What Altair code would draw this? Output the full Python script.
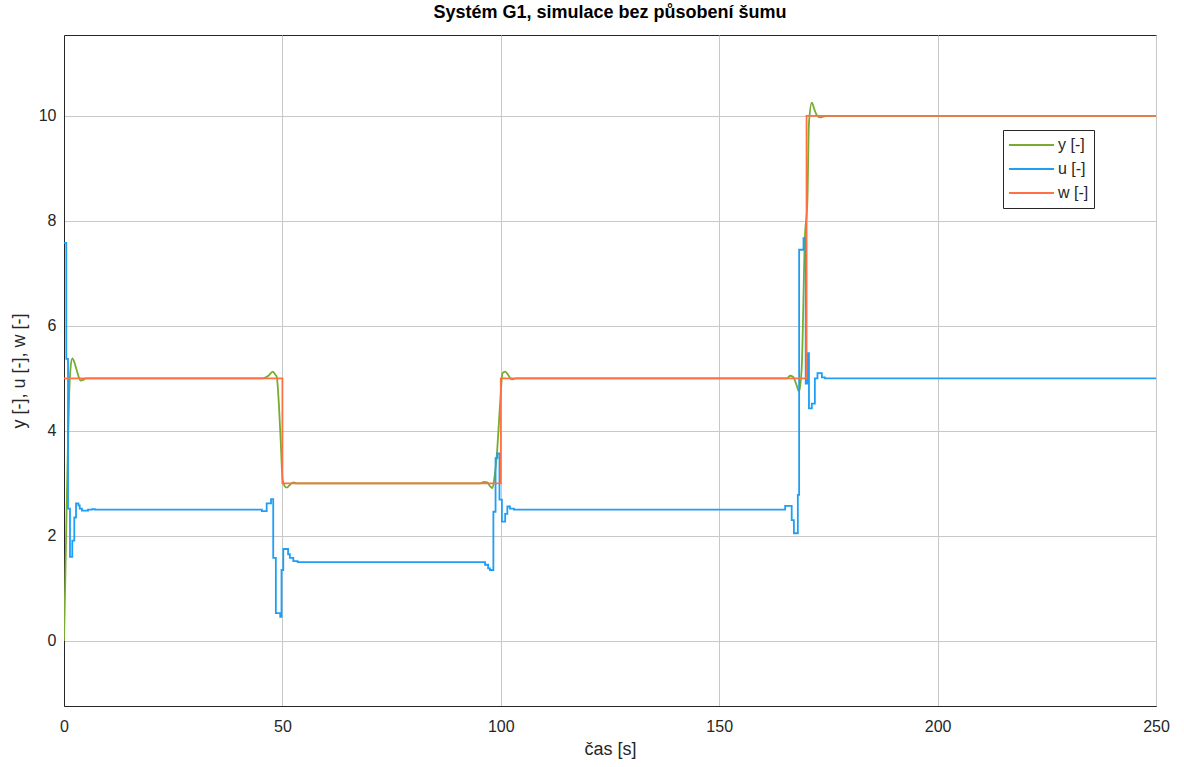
import altair as alt
import pandas as pd

# Simulation time points and responses (system G1, noise-free run)
t_y = [0, 0.3, 0.6, 0.9, 1.2, 1.5, 1.9, 2.4, 2.9, 3.4, 3.8, 4.4, 5.0,
       45.5, 46.8, 47.8, 48.3, 48.7, 49.2, 49.6, 50.05, 50.5, 51.0, 51.7, 52.5, 53.3,
       95.3, 96.2, 96.9, 97.5, 98.1, 98.6, 99.06, 99.8, 100.4, 101.0, 101.8, 102.5, 103.5,
       165.5, 166.2, 166.9, 167.6, 168.3, 168.9, 169.6, 170.2, 170.55, 171.2, 171.8, 172.3,
       173.1, 174.0, 175.2, 250]
y_vals = [0, 1.2, 2.5, 3.7, 4.72, 5.2, 5.38, 5.3, 5.16, 5.02, 4.96, 4.97, 5.0,
          5.0, 5.05, 5.13, 5.08, 5.03, 4.5, 3.83, 3.07, 2.95, 2.92, 2.97, 3.02, 3.0,
          3.0, 3.03, 3.02, 2.95, 2.91, 3.15, 3.51, 4.46, 5.1, 5.13, 5.05, 4.98, 5.0,
          5.0, 5.05, 5.03, 4.9, 4.75, 5.22, 7.64, 8.4, 9.86, 10.25, 10.12, 10.02,
          9.97, 9.99, 10.0, 10.0]

t_u = [0, 0.53, 0.92, 1.37, 1.9, 2.36, 2.75, 3.3, 3.6, 4.1, 5.5, 6.5, 7.1,
       45.3, 46.4, 47.4, 47.9, 48.5, 49.5, 49.8, 50.2, 51.3, 51.7, 52.5, 53.5,
       96.4, 97.1, 97.5, 98.3, 98.8, 99.2, 99.7, 100.25, 101.0, 101.5, 102.1, 103.0,
       165.1, 166.6, 167.1, 168.0, 168.3, 169.3, 169.8, 170.2, 170.55, 171.2, 171.9,
       172.5, 173.5, 174.2, 250]
u_vals = [7.58, 5.37, 2.52, 1.6, 1.91, 2.35, 2.62, 2.58, 2.52, 2.48, 2.5, 2.51, 2.5,
          2.47, 2.62, 2.7, 1.58, 0.53, 0.46, 1.35, 1.75, 1.65, 1.58, 1.52, 1.5,
          1.45, 1.38, 1.35, 2.46, 3.48, 3.57, 2.69, 2.27, 2.42, 2.56, 2.52, 2.5,
          2.57, 2.3, 2.05, 2.78, 7.45, 7.67, 4.9, 5.48, 4.43, 4.52, 5.0,
          5.1, 5.02, 5.0, 5.0]

t_w = [0, 50, 100, 170, 250]
w_vals = [5, 3, 5, 10, 10]

series_names = ["y [-]", "u [-]", "w [-]"]
series_colors = ["#77AC30", "#1E9EF5", "#FF7043"]
x_ticks = [0, 50, 100, 150, 200, 250]
y_ticks = [0, 2, 4, 6, 8, 10]

FONT = "Liberation Sans"


def frame(ts, vs, name):
    return pd.DataFrame({"t": ts, "v": vs, "s": name})


x_enc = alt.X("t:Q",
              scale=alt.Scale(domain=[0, 250], nice=False, zero=False),
              axis=alt.Axis(values=x_ticks, title="čas [s]", grid=True, labelFlush=False))
y_enc = alt.Y("v:Q",
              scale=alt.Scale(domain=[-1.24, 11.54], nice=False, zero=False),
              axis=alt.Axis(values=y_ticks, title="y [-], u [-], w [-]", grid=True))
color_enc = alt.Color(
    "s:N",
    scale=alt.Scale(domain=series_names, range=series_colors),
    legend=alt.Legend(
        title=None, orient="none", legendX=939, legendY=95,
        symbolType="stroke", symbolSize=2025, symbolStrokeWidth=2,
        clipHeight=20, rowPadding=4,
        labelFontSize=16, labelFont=FONT, labelColor="#262626",
        fillColor="white", strokeColor="#262626", padding=5, labelOffset=3,
    ),
)


def series(df, interp):
    return alt.Chart(df).mark_line(strokeWidth=1.8, interpolate=interp, clip=True).encode(
        x=x_enc, y=y_enc, color=color_enc)


chart = alt.layer(
    series(frame(t_y, y_vals, series_names[0]), "monotone"),
    series(frame(t_u, u_vals, series_names[1]), "step-after"),
    series(frame(t_w, w_vals, series_names[2]), "step-after"),
).properties(
    width=1092, height=671,
    autosize=alt.AutoSizeParams(type="none"),
    padding={"left": 64, "top": 35, "right": 28, "bottom": 61},
    title=alt.TitleParams("Systém G1, simulace bez působení šumu", fontSize=18,
                          fontWeight="bold", font=FONT, color="#000000", offset=13),
    background="white",
).configure_view(
    stroke="#262626", strokeWidth=1
).configure_axis(
    domainColor="#262626", gridColor="#c8c8c8", gridWidth=1,
    ticks=False, labelFont=FONT, labelFontSize=16, labelColor="#262626",
    titleFont=FONT, titleFontSize=18, titleFontWeight="normal", titleColor="#262626",
).configure_axisX(
    labelPadding=12, titlePadding=6
).configure_axisY(
    labelPadding=8, titlePadding=10
)

chart.save("out.html", embed_options={"renderer": "svg", "actions": False})
